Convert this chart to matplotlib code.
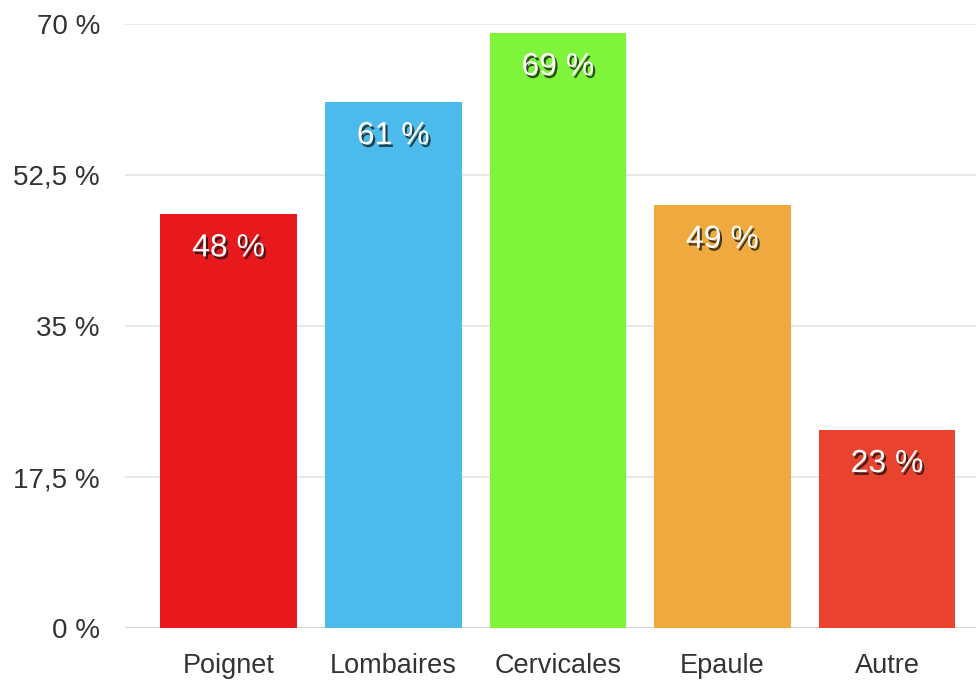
import matplotlib
matplotlib.use("Agg")
import matplotlib.pyplot as plt
import matplotlib.patheffects as pe

plt.rcParams['font.family'] = ['Liberation Sans', 'DejaVu Sans']

categories = ["Poignet", "Lombaires", "Cervicales", "Epaule", "Autre"]
values = [48, 61, 69, 49, 23]
colors = ["#e8191d", "#4bbbeb", "#7ef53b", "#f0a93f", "#e9432f"]
yticks = [0, 17.5, 35, 52.5, 70]
ytick_labels = ["0 %", "17,5 %", "35 %", "52,5 %", "70 %"]

fig = plt.figure(figsize=(9.76, 6.83), dpi=100)
ax = fig.add_axes([0.128, 0.0805, 0.872, 0.8844])

x = range(len(categories))
bars = ax.bar(x, values, width=0.83, color=colors, zorder=3)

for b, v in zip(bars, values):
    ax.text(b.get_x() + b.get_width() / 2, v - 4, f"{v} %",
            ha="center", va="center", fontsize=23, color="white", zorder=4,
            path_effects=[pe.withSimplePatchShadow(offset=(1.5, -2),
                                                   shadow_rgbFace="#111111",
                                                   alpha=0.75)])

ax.set_xlim(-0.63, 4.54)
ax.set_ylim(0, 70)
ax.set_yticks(yticks)
ax.set_yticklabels(ytick_labels)
ax.set_xticks(list(x))
ax.set_xticklabels(categories)
ax.tick_params(axis="y", length=0, pad=18, labelsize=20, labelcolor="#333333")
ax.tick_params(axis="x", length=0, pad=18, labelsize=19.5, labelcolor="#333333")
ax.yaxis.grid(True, color="#e3e3e3", linewidth=1.2, zorder=0)
ax.set_axisbelow(True)
for s in ax.spines.values():
    s.set_visible(False)
ax.axhline(0, color="#cfcfcf", linewidth=1.2, zorder=2)

fig.savefig("out.png", dpi=100)
